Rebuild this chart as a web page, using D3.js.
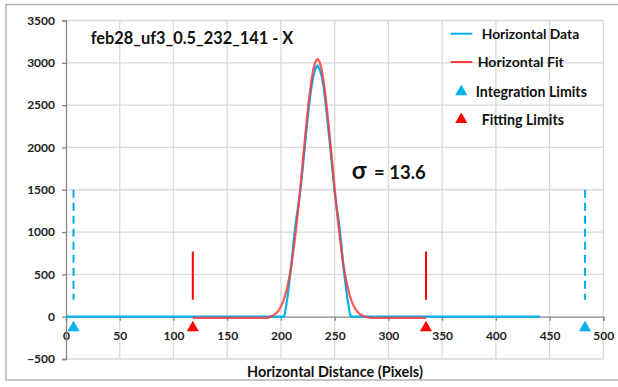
<!DOCTYPE html>
<html><head><meta charset="utf-8">
<script src="https://cdn.jsdelivr.net/npm/d3@7"></script>
<style>
html,body{margin:0;padding:0;background:#fff;}
text{font-family:Lato,"Open Sans",sans-serif;font-weight:bold;}
</style></head>
<body><svg id="c" width="618" height="387"></svg>
<script>
// ---- data ----
const titleText = "feb28_uf3_0.5_232_141 - X";
const xTicks = [0,50,100,150,200,250,300,350,400,450,500];
const yTicks = [-500,0,500,1000,1500,2000,2500,3000,3500];
const dataX = [0,203,204,206,208,210,212,214,216,218,220,222,224,226,228,230,232,234,236,238,240,242,244,246,248,250,252,254,256,258,260,262,264,265,441];
const dataY = [0,0,60,220,430,650,920,1130,1300,1480,1720,1980,2240,2480,2680,2830,2930,2970,2920,2840,2690,2470,2230,1990,1730,1470,1280,1110,880,600,400,200,50,0,0];
const fitX = [118,188,190,192,194,196,198,200,202,204,206,208,210,212,214,216,218,220,222,224,226,228,230,232,234,236,238,240,242,244,246,248,250,252,254,256,258,260,262,264,266,268,270,272,274,276,278,280,282,286,335];
const fitY = [-15,-15,1,11,25,47,77,120,177,253,353,477,630,812,1023,1260,1517,1786,2058,2320,2559,2761,2916,3012,3045,3012,2916,2761,2559,2320,2058,1786,1517,1260,1023,812,630,477,353,253,177,120,77,47,25,11,1,-5,-10,-15,-15];
const integLimits = [7,483];
const fitLimits = [118,335];
const integLine = [200,1500];
const fitLine = [200,770];
const markerY = -130;
const sigmaSymbol = "σ";
const sigmaRest = " = 13.6";
const legendLabels = ["Horizontal Data","Horizontal Fit","Integration Limits","Fitting Limits"];
const xTitle = "Horizontal Distance (Pixels)";

const blue = "#00b0f0", red = "#ff0000", fitRed = "#ff3b3b";
const svg = d3.select("#c");
const x = d3.scaleLinear().domain([0,500]).range([66,603.3]);
const y = d3.scaleLinear().domain([-500,3500]).range([359,20.5]);

function fit(sel, w){
  const n = sel.node(); const fs = parseFloat(sel.attr("font-size"));
  const cw = n.getComputedTextLength();
  if (cw>0) sel.attr("font-size", fs*w/cw);
  return sel;
}

// frame
svg.append("rect").attr("x",6).attr("y",4.5).attr("width",700).attr("height",375.5)
  .attr("fill","none").attr("stroke","#b4b4b4").attr("stroke-width",1.5);

// gridlines
const g = svg.append("g");
g.selectAll(".vg").data(xTicks.filter(d=>d>0)).join("line")
  .attr("x1",d=>x(d)).attr("x2",d=>x(d)).attr("y1",y(3500)).attr("y2",y(-500))
  .attr("stroke","#d9d9d9").attr("stroke-width",1.3);
g.selectAll(".hg").data(yTicks.filter(d=>d!==0)).join("line")
  .attr("x1",x(0)).attr("x2",x(500)).attr("y1",d=>y(d)).attr("y2",d=>y(d))
  .attr("stroke","#d9d9d9").attr("stroke-width",1.3);

// axes
const ax = svg.append("g").attr("transform",`translate(0,${y(0)})`)
  .call(d3.axisBottom(x).tickValues(xTicks).tickSize(4).tickPadding(11).tickFormat(d3.format("d")));
const ay = svg.append("g").attr("transform",`translate(${x(0)},0)`)
  .call(d3.axisLeft(y).tickValues(yTicks).tickSize(4).tickPadding(7).tickFormat(d3.format("d")));
[ax,ay].forEach(a=>{
  a.select(".domain").attr("stroke","#868686").attr("stroke-width",1.3);
  a.selectAll(".tick line").attr("stroke","#868686").attr("stroke-width",1.3);
  a.selectAll(".tick text").attr("font-size",12).attr("fill","#222")
    .style("font-family","Lato, sans-serif").style("font-weight","bold");
});

// lines
const line = d3.line().x(d=>x(d[0])).y(d=>y(d[1]));
svg.append("path").datum(dataX.map((v,i)=>[v,dataY[i]])).attr("d",line)
  .attr("fill","none").attr("stroke",blue).attr("stroke-width",2.2).attr("stroke-linejoin","round");
svg.append("path").datum(fitX.map((v,i)=>[v,fitY[i]])).attr("d",line)
  .attr("fill","none").attr("stroke",fitRed).attr("stroke-width",2.2).attr("stroke-opacity",0.85).attr("stroke-linejoin","round");

// limit lines
svg.selectAll(".il").data(integLimits).join("line")
  .attr("x1",d=>x(d)).attr("x2",d=>x(d)).attr("y1",y(integLine[1])).attr("y2",y(integLine[0]))
  .attr("stroke",blue).attr("stroke-width",2).attr("stroke-dasharray","8,5");
svg.selectAll(".fl").data(fitLimits).join("line")
  .attr("x1",d=>x(d)).attr("x2",d=>x(d)).attr("y1",y(fitLine[1])).attr("y2",y(fitLine[0]))
  .attr("stroke",red).attr("stroke-width",2);

// triangles
const tri = d3.symbol().type(d3.symbolTriangle).size(64);
svg.selectAll(".it").data(integLimits).join("path").attr("d",tri)
  .attr("transform",d=>`translate(${x(d)},${y(markerY)})`).attr("fill",blue);
svg.selectAll(".ft").data(fitLimits).join("path").attr("d",tri)
  .attr("transform",d=>`translate(${x(d)},${y(markerY)})`).attr("fill",red);

// legend
const lg = svg.append("g");
lg.append("line").attr("x1",450.7).attr("x2",472.3).attr("y1",33.7).attr("y2",33.7).attr("stroke",blue).attr("stroke-width",2);
lg.append("line").attr("x1",450.7).attr("x2",472.3).attr("y1",62).attr("y2",62).attr("stroke",fitRed).attr("stroke-width",2);
lg.append("path").attr("d",tri).attr("transform","translate(461.3,91.7)").attr("fill",blue);
lg.append("path").attr("d",tri).attr("transform","translate(461.3,119.5)").attr("fill",red);
const legPos = [[481.7,34,97.6],[477.7,62.3,86.3],[475.7,91.7,111.3],[481.7,120,82.3]];
legendLabels.forEach((t,i)=>{
  const s = lg.append("text").attr("x",legPos[i][0]).attr("y",legPos[i][1]).attr("dy","0.35em")
    .attr("font-size",13).attr("fill","#111").text(t);
  fit(s, legPos[i][2]);
});

// title
fit(svg.append("text").attr("x",90.7).attr("y",38).attr("dy","0.35em").attr("font-size",16).attr("fill","#111").text(titleText), 202.6);
// sigma
const sg = svg.append("text").attr("x",351.7).attr("y",178.5).attr("fill","#111");
sg.append("tspan").attr("font-size",24).text(sigmaSymbol);
const rest = sg.append("tspan").attr("font-size",18.5).attr("dx",3).text(sigmaRest);
// x title
fit(svg.append("text").attr("x",247).attr("y",372).attr("dy","0.35em").attr("font-size",14.5).attr("fill","#111").text(xTitle), 176);
</script></body></html>
